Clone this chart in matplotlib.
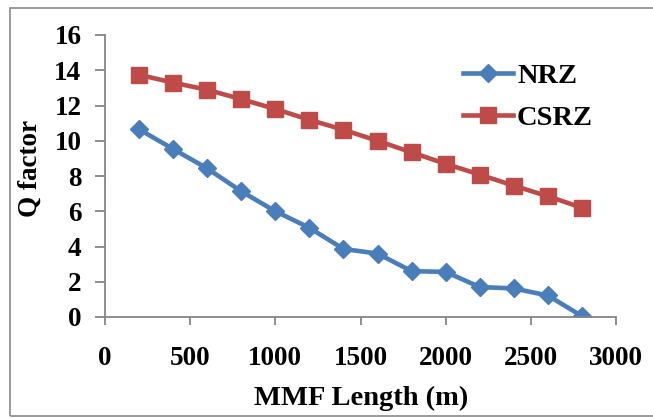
import matplotlib
matplotlib.use("Agg")
import matplotlib.pyplot as plt
from matplotlib.patches import Rectangle

length_m = [200, 400, 600, 800, 1000, 1200, 1400, 1600, 1800, 2000, 2200, 2400, 2600, 2800]
nrz = [10.65, 9.53, 8.43, 7.13, 6.0, 5.06, 3.86, 3.6, 2.6, 2.56, 1.7, 1.62, 1.22, 0.05]
csrz = [13.74, 13.3, 12.89, 12.36, 11.8, 11.19, 10.62, 10.0, 9.34, 8.69, 8.08, 7.45, 6.85, 6.2]
xticks = [0, 500, 1000, 1500, 2000, 2500, 3000]
yticks = [0, 2, 4, 6, 8, 10, 12, 14, 16]

W, H = 653, 418
plt.rcParams['font.family'] = ['Liberation Serif', 'DejaVu Serif']
plt.rcParams['font.weight'] = 'bold'

fig = plt.figure(figsize=(W / 100, H / 100), dpi=100)
ax = fig.add_axes([105 / W, 1 - 317 / H, (616 - 105) / W, (317 - 35) / H])

blue = '#4A7EBB'
red = '#BE4B48'
ax.plot(length_m, nrz, color=blue, lw=3.3, marker='D', ms=9, label='NRZ')
ax.plot(length_m, csrz, color=red, lw=3.3, marker='s', ms=11.5, label='CSRZ')

ax.set_xlim(0, 3000)
ax.set_ylim(0, 16)
ax.set_xticks(xticks)
ax.set_yticks(yticks)
for s in ['top', 'right']:
    ax.spines[s].set_visible(False)
for s in ['left', 'bottom']:
    ax.spines[s].set_color('#868686')
    ax.spines[s].set_linewidth(1.3)
ax.tick_params(axis='y', direction='out', length=7, width=1.3, color='#868686',
               labelsize=19.5, pad=10)
ax.tick_params(axis='x', direction='out', length=6, width=1.3, color='#868686',
               labelsize=19.5, pad=15)
for lab in ax.get_xticklabels() + ax.get_yticklabels():
    lab.set_fontweight('bold')

fig.text(361 / W, 1 - 405 / H, 'MMF Length (m)', ha='center', va='baseline',
         fontsize=20.5, fontweight='bold')
fig.text(30 / W, 1 - 168 / H, 'Q factor', ha='center', va='center', rotation=90,
         fontsize=19.5, fontweight='bold')

leg = ax.legend(loc='center left', bbox_to_anchor=(463 / W, 1 - 97 / H),
                bbox_transform=fig.transFigure, frameon=False, fontsize=20.5,
                handlelength=1.75, handletextpad=0.15, labelspacing=0.55,
                borderpad=0, borderaxespad=0)
for t in leg.get_texts():
    t.set_fontweight('bold')

fig.add_artist(Rectangle((10 / W, 1 - 416 / H), 1.0, (416 - 8) / H,
                         transform=fig.transFigure, fill=False,
                         edgecolor='#8a8a8a', lw=1.2))

fig.savefig('out.png', dpi=100)
